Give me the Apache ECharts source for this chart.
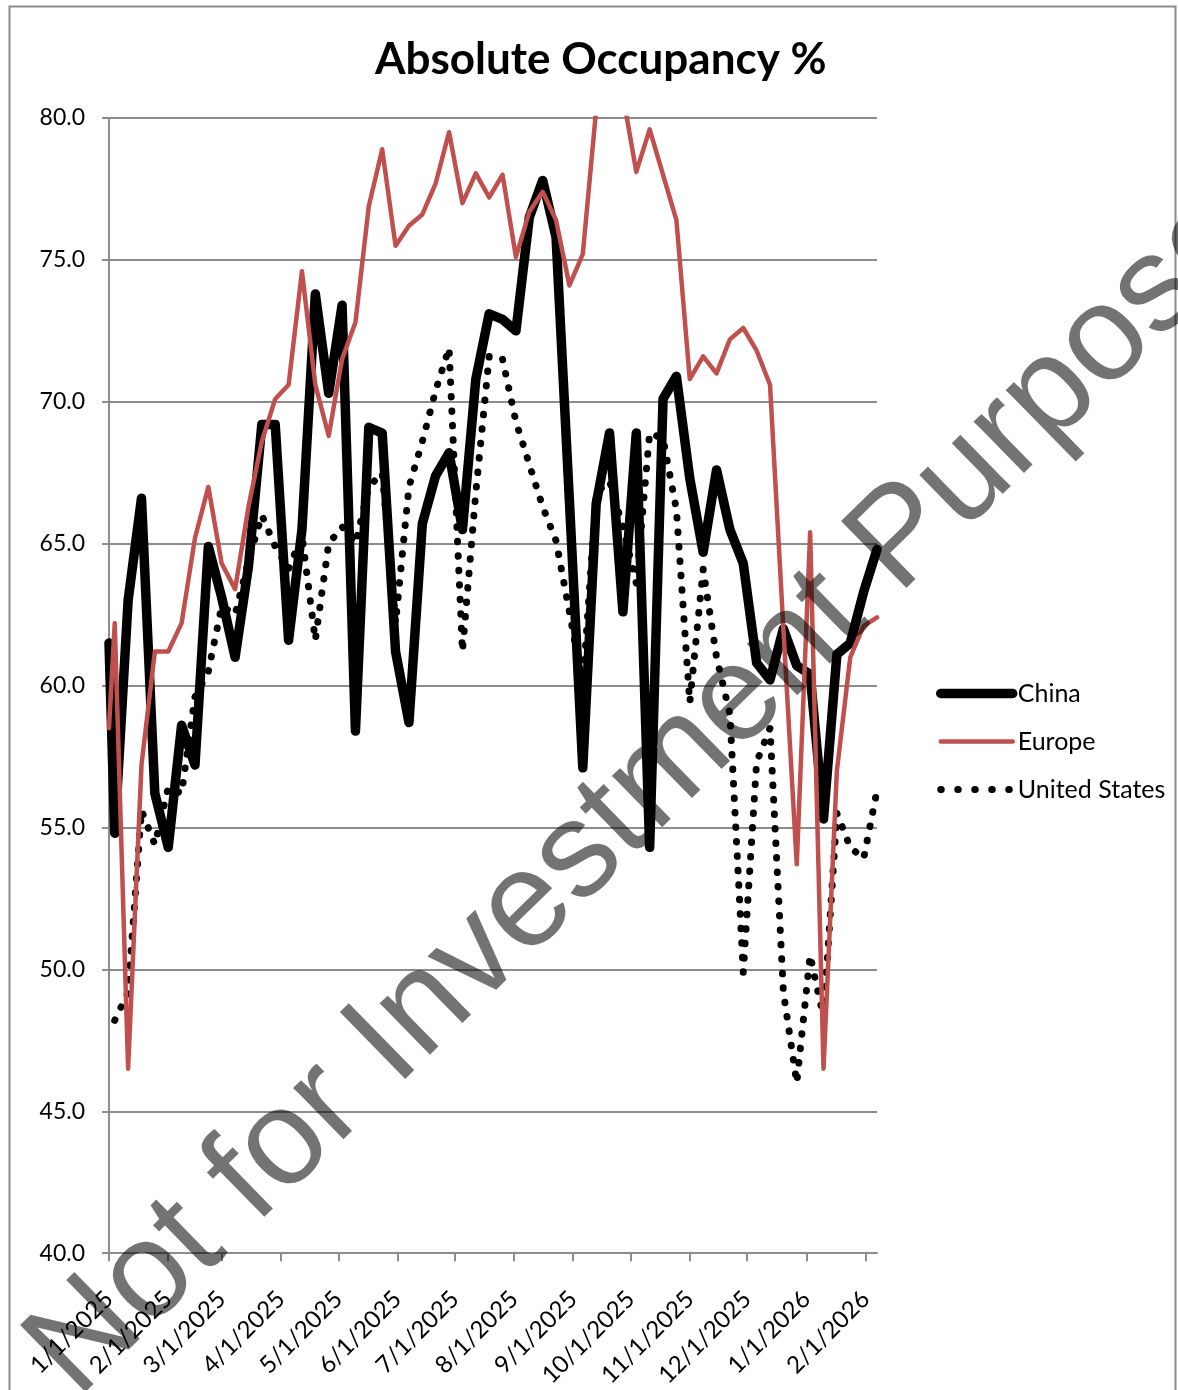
<!DOCTYPE html>
<html>
<head>
<meta charset="utf-8">
<script src="https://cdn.jsdelivr.net/npm/echarts@6/dist/echarts.min.js"></script>
<style>
  html, body { margin: 0; padding: 0; background: #fff; }
  #chart { width: 1178px; height: 1390px; }
</style>
</head>
<body>
<div id="chart"></div>
<script>
// weekly readings, first row is 1/1/2025 then Saturdays
const dates = [
  '2025-01-01', '2025-01-04', '2025-01-11', '2025-01-18', '2025-01-25',
  '2025-02-01', '2025-02-08', '2025-02-15', '2025-02-22',
  '2025-03-01', '2025-03-08', '2025-03-15', '2025-03-22', '2025-03-29',
  '2025-04-05', '2025-04-12', '2025-04-19', '2025-04-26',
  '2025-05-03', '2025-05-10', '2025-05-17', '2025-05-24', '2025-05-31',
  '2025-06-07', '2025-06-14', '2025-06-21', '2025-06-28',
  '2025-07-05', '2025-07-12', '2025-07-19', '2025-07-26',
  '2025-08-02', '2025-08-09', '2025-08-16', '2025-08-23', '2025-08-30',
  '2025-09-06', '2025-09-13', '2025-09-20', '2025-09-27',
  '2025-10-04', '2025-10-11', '2025-10-18', '2025-10-25',
  '2025-11-01', '2025-11-08', '2025-11-15', '2025-11-22', '2025-11-29',
  '2025-12-06', '2025-12-13', '2025-12-20', '2025-12-27',
  '2026-01-03', '2026-01-10', '2026-01-17', '2026-01-24', '2026-01-31',
  '2026-02-07'
]
const china = [
  61.5, 54.8, 63.0, 66.6, 56.2,
  54.3, 58.6, 57.2, 64.9,
  63.1, 61.0, 64.2, 69.2, 69.2,
  61.6, 65.5, 73.8, 70.3,
  73.4, 58.4, 69.1, 68.9, 61.2,
  58.7, 65.7, 67.4, 68.2,
  65.5, 70.8, 73.1, 72.9,
  72.5, 76.5, 77.8, 75.8, 66.5,
  57.1, 66.4, 68.9, 62.6,
  68.9, 54.3, 70.1, 70.9,
  67.3, 64.7, 67.6, 65.5, 64.3,
  60.8, 60.2, 62.0, 60.7,
  60.4, 55.3, 61.1, 61.5, 63.3,
  64.8
]
const europe = [
  58.5, 62.2, 46.5, 57.2, 61.2,
  61.2, 62.2, 65.2, 67.0,
  64.3, 63.4, 66.3, 68.6, 70.1,
  70.6, 74.6, 70.6, 68.8,
  71.5, 72.8, 76.9, 78.9, 75.5,
  76.2, 76.6, 77.7, 79.5,
  77.0, 78.05, 77.2, 78.0,
  75.1, 76.7, 77.4, 76.4, 74.1,
  75.2, 80.3, 82.0, 80.8,
  78.1, 79.6, 78.0, 76.4,
  70.8, 71.6, 71.0, 72.2, 72.6,
  71.8, 70.6, 62.0, 53.7,
  65.4, 46.5, 57.0, 61.0, 62.1,
  62.4
]
const unitedStates = [
  null, 48.2, 49.2, 55.6, 54.4,
  56.4, 56.2, 59.6, 60.5,
  62.8, 62.5, 64.4, 66.0, 64.9,
  64.1, 65.3, 61.6, 65.0,
  65.6, 65.0, 67.0, 67.5, 62.2,
  67.0, 68.6, 70.4, 71.9,
  61.2, 66.8, 71.6, 71.5,
  69.3, 67.8, 66.3, 65.1, 62.6,
  60.0, 66.8, 67.2, 65.6,
  63.6, 68.9, 68.7, 66.2,
  59.4, 64.1, 61.0, 59.0, 49.9,
  57.3, 58.5, 49.2, 46.0,
  50.5, 48.3, 55.5, 54.3, 53.9,
  56.3
]
const monthTicks = [
  '2025-01-01', '2025-02-01', '2025-03-01', '2025-04-01', '2025-05-01',
  '2025-06-01', '2025-07-01', '2025-08-01', '2025-09-01', '2025-10-01',
  '2025-11-01', '2025-12-01', '2026-01-01', '2026-02-01'
]
const axisStart = '2025-01-01'
const axisEnd = '2026-02-07'

// x positions are day numbers counted from axisStart (like an Excel date axis)
const DAY = 86400000
const toUTC = (s) => {
  const p = s.split('-').map(Number)
  return Date.UTC(p[0], p[1] - 1, p[2])
}
const dayNo = (s) => Math.round((toUTC(s) - toUTC(axisStart)) / DAY)
const dayLabel = (n) => {
  const d = new Date(toUTC(axisStart) + n * DAY)
  return (d.getUTCMonth() + 1) + '/' + d.getUTCDate() + '/' + d.getUTCFullYear()
}
const pairs = (vals) => dates.map((d, i) => [dayNo(d), vals[i]])
const tickDays = monthTicks.map(dayNo)
const fontName = 'Lato, "Open Sans", sans-serif'

const chinaLine = { color: '#000', width: 9.5, cap: 'round', join: 'round' }
const europeLine = { color: '#c0504d', width: 4.5, cap: 'round', join: 'round' }
const usLine = { color: '#000', width: 7, type: [0.5, 14], cap: 'round', join: 'round' }

const chart = echarts.init(document.getElementById('chart'), null, { renderer: 'canvas' })
const option = {
  animation: false,
  backgroundColor: '#fff',
  title: {
    text: 'Absolute Occupancy %',
    left: 370,
    top: 33,
    textStyle: { fontFamily: fontName, fontWeight: 'bold', fontSize: 44, color: '#000' }
  },
  legend: {
    orient: 'vertical',
    left: 931,
    top: 676,
    itemWidth: 72,
    itemHeight: 14,
    itemGap: 23,
    textStyle: { fontFamily: fontName, fontSize: 25, color: '#000' },
    data: [
      { name: 'China', itemStyle: { opacity: 0 }, lineStyle: chinaLine },
      { name: 'Europe', itemStyle: { opacity: 0 }, lineStyle: europeLine },
      { name: 'United States', itemStyle: { opacity: 0 }, lineStyle: { ...usLine, type: [0.5, 16.5] } }
    ]
  },
  grid: { left: 109, right: 301, top: 118, bottom: 136, containLabel: false },
  xAxis: {
    type: 'value',
    min: 0,
    max: dayNo(axisEnd),
    axisLine: { lineStyle: { color: '#8c8c8c', width: 2 } },
    axisTick: { show: true, customValues: tickDays, length: 8, lineStyle: { color: '#8c8c8c', width: 2 } },
    axisLabel: {
      customValues: tickDays,
      rotate: 45,
      margin: 42,
      fontFamily: fontName,
      fontSize: 24,
      color: '#000',
      formatter: (v) => dayLabel(v)
    },
    splitLine: { show: false }
  },
  yAxis: {
    type: 'value',
    min: 40,
    max: 80,
    interval: 5,
    axisLine: { show: true, lineStyle: { color: '#8c8c8c', width: 2 } },
    axisTick: { show: true, length: 7, lineStyle: { color: '#8c8c8c', width: 2 } },
    axisLabel: {
      margin: 24,
      fontFamily: fontName,
      fontSize: 23,
      color: '#000',
      formatter: (v) => v.toFixed(1)
    },
    splitLine: { lineStyle: { color: '#8c8c8c', width: 2 } }
  },
  series: [
    {
      name: 'China',
      type: 'line',
      symbol: 'none',
      clip: true,
      z: 3,
      color: '#000',
      lineStyle: chinaLine,
      data: pairs(china)
    },
    {
      name: 'Europe',
      type: 'line',
      symbol: 'none',
      clip: true,
      z: 4,
      color: '#c0504d',
      lineStyle: europeLine,
      data: pairs(europe)
    },
    {
      name: 'United States',
      type: 'line',
      symbol: 'none',
      clip: true,
      z: 2,
      color: '#000',
      lineStyle: usLine,
      data: pairs(unitedStates)
    }
  ],
  graphic: [
    {
      type: 'rect',
      z: 100,
      shape: { x: 9.5, y: 6.5, width: 1166, height: 1420 },
      style: { fill: 'none', stroke: '#8c8c8c', lineWidth: 2 }
    },
    {
      // watermark laid over the plot
      type: 'text',
      z: 101,
      x: 667,
      y: 770,
      rotation: 44.4 * Math.PI / 180,
      style: {
        text: 'Not for Investment Purposes',
        font: '136px "Liberation Sans", Arial, sans-serif',
        fill: 'rgba(0,0,0,0.55)',
        textAlign: 'center',
        textVerticalAlign: 'middle'
      }
    }
  ]
}
chart.setOption(option)
window.addEventListener('resize', () => {
  chart.resize()
})
</script>
</body>
</html>
